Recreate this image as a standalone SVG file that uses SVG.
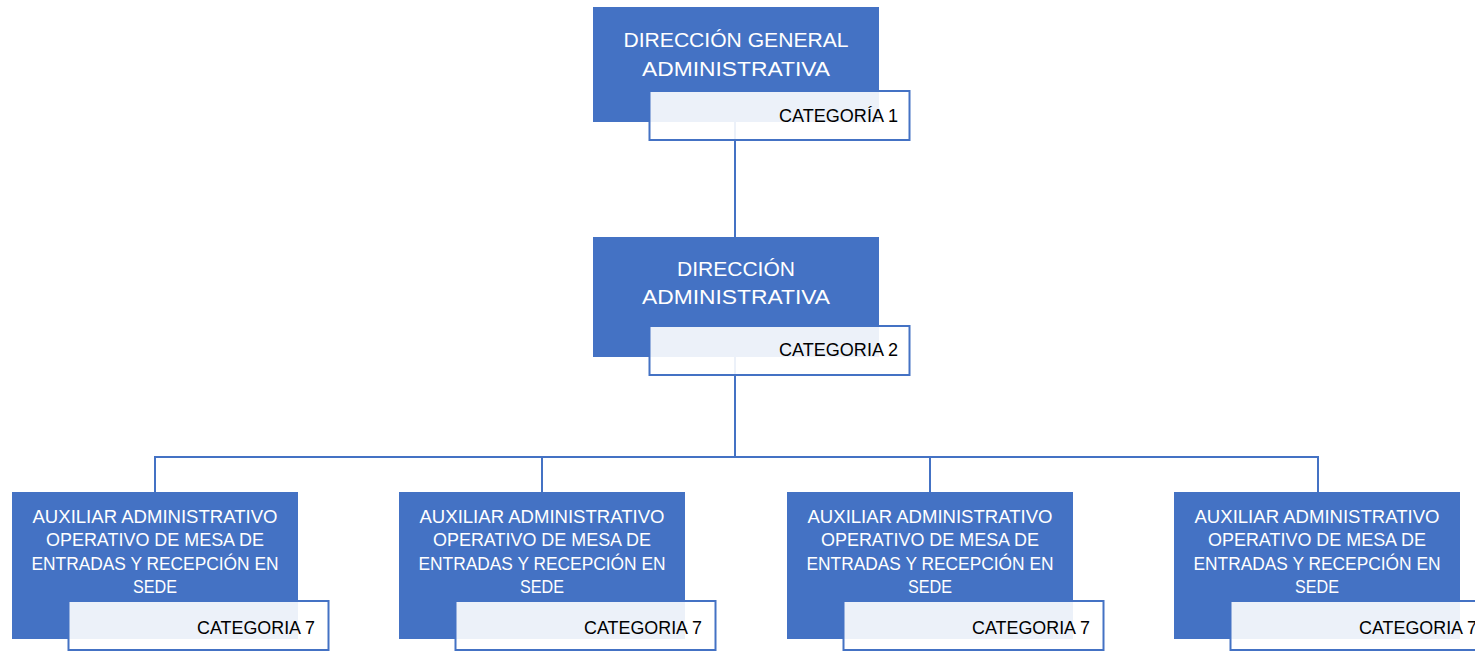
<svg xmlns="http://www.w3.org/2000/svg" width="1475" height="652" viewBox="0 0 1475 652">
  <style>
    .box { fill: #4472c4; }
    .cat { fill: #ffffff; fill-opacity: 0.9; stroke: #4472c4; stroke-width: 2; }
    .title { font-family: "Liberation Sans", Arial, sans-serif; fill: #ffffff; text-anchor: middle; }
    .big { font-size: 20px; }
    .small { font-size: 18.5px; }
    .label { font-family: "Liberation Sans", Arial, sans-serif; font-size: 18.5px; fill: #000000; text-anchor: end; }
    .conn { fill: none; stroke: #4472c4; stroke-width: 2; }
  </style>
  <rect width="1475" height="652" fill="#ffffff"/>

  <!-- connectors -->
  <g id="connectors">
    <line class="conn" x1="735" y1="122" x2="735" y2="237"/>
    <line class="conn" x1="735" y1="356" x2="735" y2="457"/>
    <path class="conn" d="M155 493 V457 H1318 V493"/>
    <line class="conn" x1="542" y1="457" x2="542" y2="493"/>
    <line class="conn" x1="930" y1="457" x2="930" y2="493"/>
  </g>

  <!-- top level -->
  <g id="node-direccion-general">
    <rect class="box" x="593" y="7" width="286" height="115"/>
    <text class="title big" x="736" y="47" textLength="225" lengthAdjust="spacingAndGlyphs">DIRECCIÓN GENERAL</text>
    <text class="title big" x="736" y="76" textLength="188" lengthAdjust="spacingAndGlyphs">ADMINISTRATIVA</text>
    <rect class="cat" x="649.5" y="91" width="260" height="49"/>
    <text class="label" x="898" y="122" textLength="119" lengthAdjust="spacingAndGlyphs">CATEGORÍA 1</text>
  </g>

  <!-- second level -->
  <g id="node-direccion-administrativa">
    <rect class="box" x="593" y="237" width="286" height="120"/>
    <text class="title big" x="736" y="276" textLength="118" lengthAdjust="spacingAndGlyphs">DIRECCIÓN</text>
    <text class="title big" x="736" y="304" textLength="188" lengthAdjust="spacingAndGlyphs">ADMINISTRATIVA</text>
    <rect class="cat" x="649.5" y="326" width="260" height="49"/>
    <text class="label" x="898" y="356" textLength="119" lengthAdjust="spacingAndGlyphs">CATEGORIA 2</text>
  </g>

  <!-- third level -->
  <g id="node-auxiliar-1">
    <rect class="box" x="12" y="492" width="286" height="147"/>
    <text class="title small" x="155" y="523" textLength="245" lengthAdjust="spacingAndGlyphs">AUXILIAR ADMINISTRATIVO</text>
    <text class="title small" x="155" y="546" textLength="218" lengthAdjust="spacingAndGlyphs">OPERATIVO DE MESA DE</text>
    <text class="title small" x="155" y="570" textLength="247" lengthAdjust="spacingAndGlyphs">ENTRADAS Y RECEPCIÓN EN</text>
    <text class="title small" x="155" y="593" textLength="44" lengthAdjust="spacingAndGlyphs">SEDE</text>
    <rect class="cat" x="68.5" y="601" width="260" height="49"/>
    <text class="label" x="315" y="634" textLength="118" lengthAdjust="spacingAndGlyphs">CATEGORIA 7</text>
  </g>

  <g id="node-auxiliar-2">
    <rect class="box" x="399" y="492" width="286" height="147"/>
    <text class="title small" x="542" y="523" textLength="245" lengthAdjust="spacingAndGlyphs">AUXILIAR ADMINISTRATIVO</text>
    <text class="title small" x="542" y="546" textLength="218" lengthAdjust="spacingAndGlyphs">OPERATIVO DE MESA DE</text>
    <text class="title small" x="542" y="570" textLength="247" lengthAdjust="spacingAndGlyphs">ENTRADAS Y RECEPCIÓN EN</text>
    <text class="title small" x="542" y="593" textLength="44" lengthAdjust="spacingAndGlyphs">SEDE</text>
    <rect class="cat" x="455.5" y="601" width="260" height="49"/>
    <text class="label" x="702" y="634" textLength="118" lengthAdjust="spacingAndGlyphs">CATEGORIA 7</text>
  </g>

  <g id="node-auxiliar-3">
    <rect class="box" x="787" y="492" width="286" height="147"/>
    <text class="title small" x="930" y="523" textLength="245" lengthAdjust="spacingAndGlyphs">AUXILIAR ADMINISTRATIVO</text>
    <text class="title small" x="930" y="546" textLength="218" lengthAdjust="spacingAndGlyphs">OPERATIVO DE MESA DE</text>
    <text class="title small" x="930" y="570" textLength="247" lengthAdjust="spacingAndGlyphs">ENTRADAS Y RECEPCIÓN EN</text>
    <text class="title small" x="930" y="593" textLength="44" lengthAdjust="spacingAndGlyphs">SEDE</text>
    <rect class="cat" x="843.5" y="601" width="260" height="49"/>
    <text class="label" x="1090" y="634" textLength="118" lengthAdjust="spacingAndGlyphs">CATEGORIA 7</text>
  </g>

  <g id="node-auxiliar-4">
    <rect class="box" x="1174" y="492" width="286" height="147"/>
    <text class="title small" x="1317" y="523" textLength="245" lengthAdjust="spacingAndGlyphs">AUXILIAR ADMINISTRATIVO</text>
    <text class="title small" x="1317" y="546" textLength="218" lengthAdjust="spacingAndGlyphs">OPERATIVO DE MESA DE</text>
    <text class="title small" x="1317" y="570" textLength="247" lengthAdjust="spacingAndGlyphs">ENTRADAS Y RECEPCIÓN EN</text>
    <text class="title small" x="1317" y="593" textLength="44" lengthAdjust="spacingAndGlyphs">SEDE</text>
    <rect class="cat" x="1230.5" y="601" width="260" height="49"/>
    <text class="label" x="1477" y="634" textLength="118" lengthAdjust="spacingAndGlyphs">CATEGORIA 7</text>
  </g>
</svg>
